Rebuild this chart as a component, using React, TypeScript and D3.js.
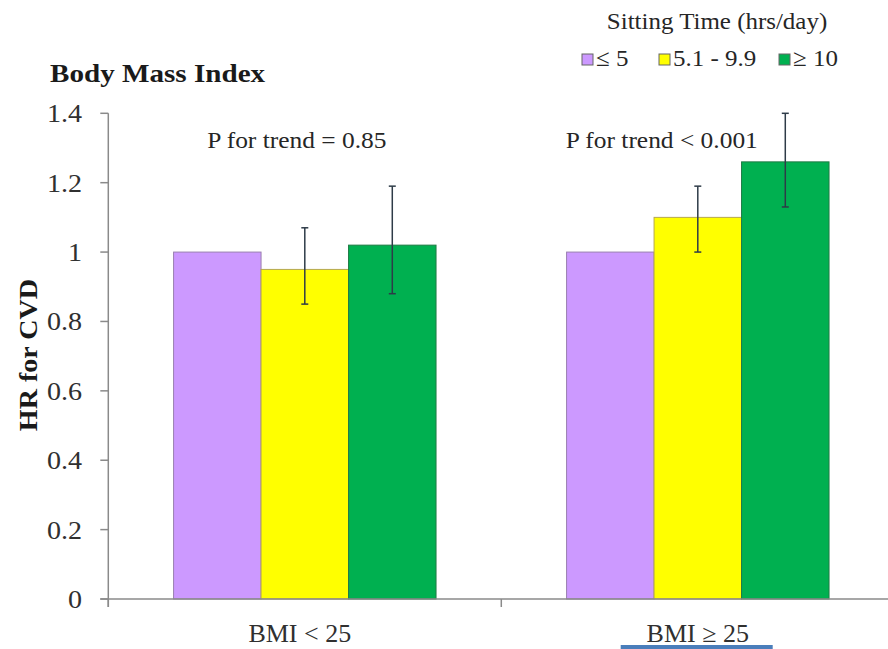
import React from "react";
import * as d3 from "d3";

// Hazard ratios for CVD by BMI group and daily sitting time
const categories = ["BMI < 25", "BMI \u2265 25"];
const series = ["\u2264 5", "5.1 - 9.9", "\u2265 10"];
const hrValues = [
  [1.0, 0.95, 1.02],
  [1.0, 1.1, 1.26],
];
const ciLower: (number | null)[][] = [
  [null, 0.85, 0.88],
  [null, 1.0, 1.13],
];
const ciUpper: (number | null)[][] = [
  [null, 1.07, 1.19],
  [null, 1.19, 1.4],
];
const trendLabels = ["P for trend = 0.85", "P for trend < 0.001"];
const yTicks = [0, 0.2, 0.4, 0.6, 0.8, 1.0, 1.2, 1.4];

const colors = ["#cc99ff", "#ffff00", "#00b050"];
const outlines = ["#9a80b0", "#b5a850", "#1f7a45"];

const W = 888;
const H = 649;
const FONT = "Liberation Serif, DejaVu Serif, serif";

function T({
  x,
  y,
  children,
  size = 22,
  anchor = "start",
  weight = "normal",
  sx = 1,
  rotate = 0,
  fill = "#262626",
}: any) {
  return (
    <text
      transform={`translate(${x},${y}) rotate(${rotate}) scale(${sx},1)`}
      style={{ fontFamily: FONT, fontSize: size, fontWeight: weight }}
      textAnchor={anchor}
      fill={fill}
    >
      {children}
    </text>
  );
}

export default function App() {
  const axisLeft = 108.3;
  const x0 = d3
    .scaleBand<string>()
    .domain(categories)
    .range([axisLeft, axisLeft + 393 * 2])
    .paddingInner(0)
    .paddingOuter(0);
  const x1 = d3
    .scaleBand<string>()
    .domain(series)
    .range([0, x0.bandwidth()])
    .paddingInner(0)
    .paddingOuter(0.746);
  const y = d3.scaleLinear().domain([0, 1.4]).range([599, 113.3]);

  const fmt = (d: number) => String(+d.toFixed(1));
  const axisColor = "#8a8a8a";
  const errColor = "#2e3b48";

  const bars: React.ReactNode[] = [];
  const errs: React.ReactNode[] = [];
  categories.forEach((c, ci) => {
    series.forEach((s, si) => {
      const v = hrValues[ci][si];
      const bx = (x0(c) as number) + (x1(s) as number);
      const bw = x1.bandwidth();
      bars.push(
        <rect
          key={`b-${ci}-${si}`}
          x={bx}
          y={y(v)}
          width={bw}
          height={y(0) - y(v)}
          fill={colors[si]}
          stroke={outlines[si]}
          strokeWidth={1}
        />
      );
      const lo = ciLower[ci][si];
      const hi = ciUpper[ci][si];
      if (lo != null && hi != null) {
        const cx = bx + bw / 2;
        errs.push(
          <g key={`e-${ci}-${si}`} stroke={errColor} strokeWidth={1.5}>
            <line x1={cx} x2={cx} y1={y(hi)} y2={y(lo)} />
            <line x1={cx - 3.5} x2={cx + 3.5} y1={y(hi)} y2={y(hi)} />
            <line x1={cx - 3.5} x2={cx + 3.5} y1={y(lo)} y2={y(lo)} />
          </g>
        );
      }
    });
  });

  const legendX = [582, 659, 779];
  const xLabelShift = [-5, 0];

  return (
    <svg
      width={W}
      height={H}
      style={{ position: "absolute", left: 0, top: 0, background: "#fff" }}
    >
      <rect x={0} y={0} width={W} height={H} fill="#fff" />

      {/* legend */}
      <T x={717} y={29} anchor="middle" size={24} sx={1.04}>
        Sitting Time (hrs/day)
      </T>
      {series.map((s, i) => (
        <g key={`lg-${i}`}>
          <rect
            x={legendX[i]}
            y={54}
            width={11}
            height={11}
            fill={colors[i]}
            stroke="#666"
            strokeWidth={1}
          />
          <T x={legendX[i] + 14} y={66} size={24} sx={1.04}>
            {s}
          </T>
        </g>
      ))}

      {/* panel title */}
      <T x={50} y={82} size={26} weight="bold" sx={1.12} fill="#1a1a1a">
        Body Mass Index
      </T>

      {/* bars and confidence intervals */}
      {bars}
      {errs}

      {/* y axis */}
      <line x1={axisLeft} x2={axisLeft} y1={y(1.4)} y2={y(0) + 8} stroke={axisColor} strokeWidth={1.5} />
      {yTicks.map((t) => (
        <g key={`yt-${t}`}>
          <line x1={axisLeft - 8} x2={axisLeft} y1={y(t)} y2={y(t)} stroke={axisColor} strokeWidth={1.5} />
          <T x={82} y={y(t) + 9} anchor="end" size={26} sx={1.08} fill="#303030">
            {fmt(t)}
          </T>
        </g>
      ))}

      {/* x axis */}
      <line x1={axisLeft - 8} x2={W} y1={y(0)} y2={y(0)} stroke={axisColor} strokeWidth={1.5} />
      {categories.map((c) => (
        <line
          key={`xt-${c}`}
          x1={x0(c) as number}
          x2={x0(c) as number}
          y1={y(0)}
          y2={y(0) + 8}
          stroke={axisColor}
          strokeWidth={1.5}
        />
      ))}
      {categories.map((c, i) => (
        <T key={`xl-${c}`} x={(x0(c) as number) + x0.bandwidth() / 2 + xLabelShift[i]} y={642} anchor="middle" size={25} sx={1.04} fill="#303030">
          {c}
        </T>
      ))}

      {/* trend annotations */}
      {categories.map((c, i) => (
        <T key={`pt-${c}`} x={(x0(c) as number) + x0.bandwidth() / 2 - 8 + i * -28} y={148} anchor="middle" size={24} sx={1.06}>
          {trendLabels[i]}
        </T>
      ))}

      {/* y axis title */}
      <T x={37} y={355} anchor="middle" size={26} weight="bold" sx={1.08} rotate={-90} fill="#1a1a1a">
        HR for CVD
      </T>

      {/* underline accent below the second category */}
      <rect x={620.7} y={645} width={152} height={4} fill="#4a7ebb" />
    </svg>
  );
}
